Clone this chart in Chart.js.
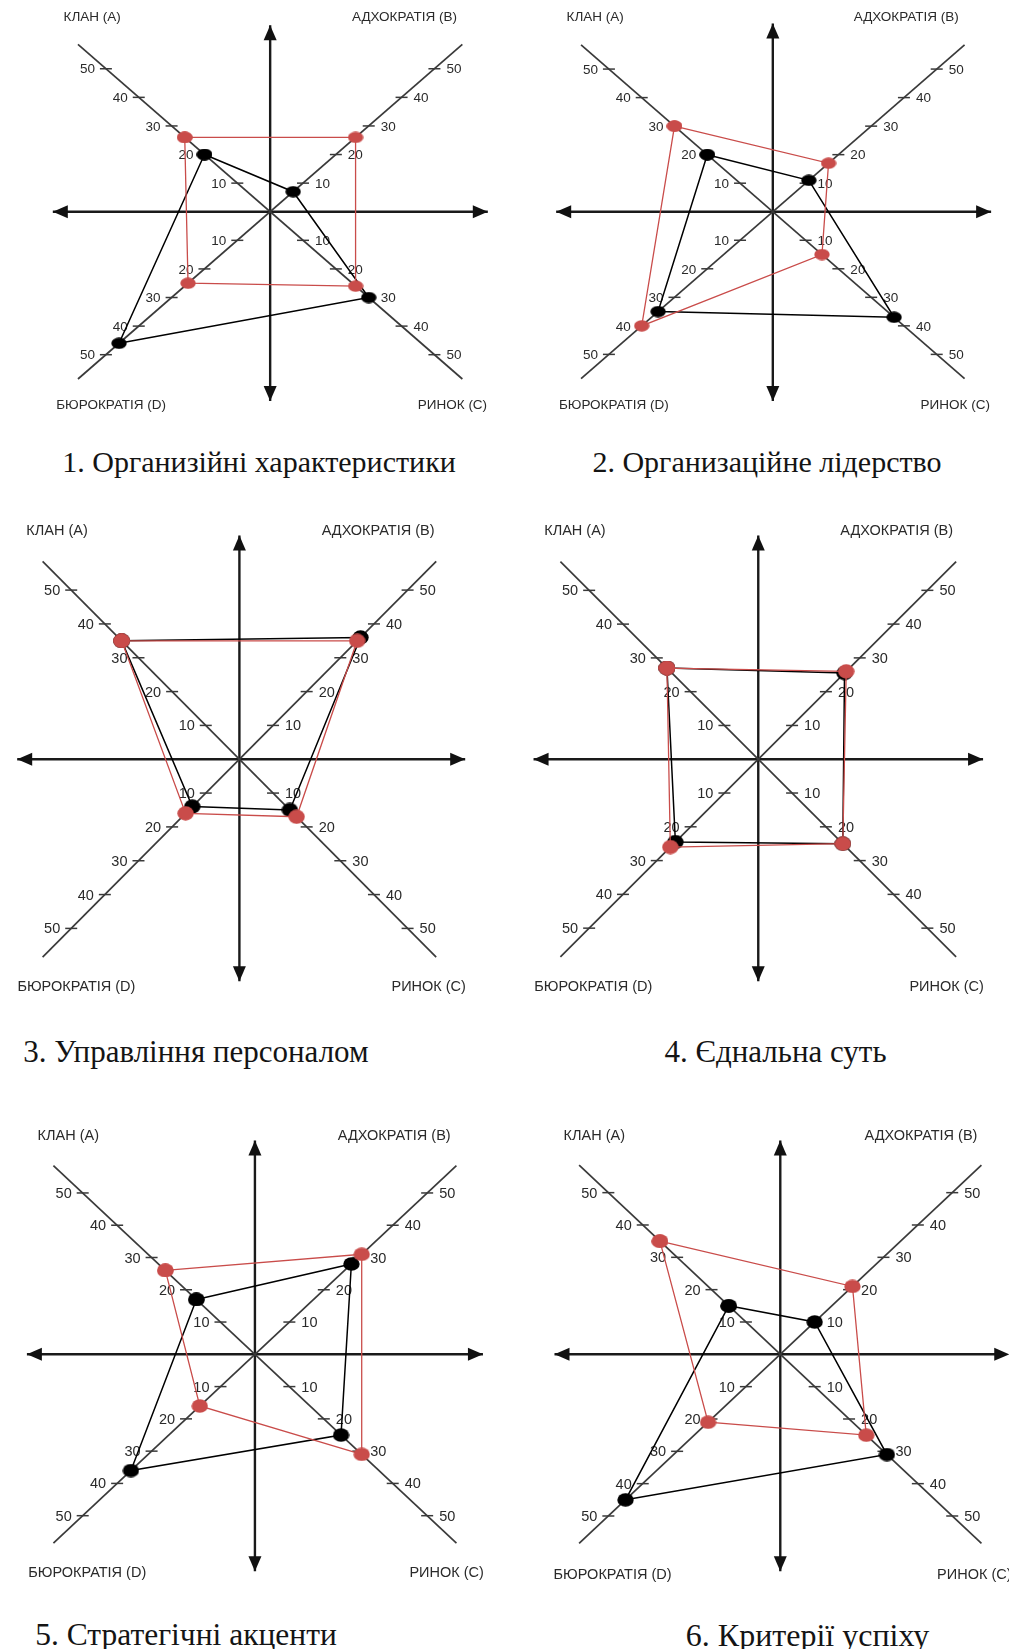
<!DOCTYPE html>
<html lang="uk">
<head>
<meta charset="utf-8">
<script src="https://cdn.jsdelivr.net/npm/chart.js@4.4.1/dist/chart.umd.min.js"></script>
<style>
  html, body { margin: 0; padding: 0; background: #fff; }
  body { position: relative; width: 1009px; height: 1649px; overflow: hidden; }
  .panel { position: absolute; }
  .caption {
    position: absolute;
    font-family: 'Liberation Serif', 'Times New Roman', serif;
    color: #141414;
    white-space: nowrap;
    transform: translate(-50%, -50%);
  }
</style>
</head>
<body>
<script>
// four culture types, order A, B, C, D (A up-left, B up-right, C down-right, D down-left)
const axisNames = ['КЛАН (А)', 'АДХОКРАТІЯ (В)', 'РИНОК (С)', 'БЮРОКРАТІЯ (D)'];
const tickValues = [10, 20, 30, 40, 50];
const chartTitles = [
  '1. Организійні характеристики',
  '2. Организаційне лідерство',
  '3. Управління персоналом',
  '4. Єднальна суть',
  '5. Стратегічні акценти',
  '6. Критерії успіху',
];

// black profile, values on A, B, C, D
const blackSeries = [
  [20, 7, 30, 46],
  [20, 11, 37, 35],
  [35, 36, 15, 14],
  [27, 25.5, 25, 24.5],
  [17, 28, 25, 36],
  [15, 10, 31, 45],
];
// red profile, values on A, B, C, D
const redSeries = [
  [26, 26, 26, 25],
  [30, 17, 15, 40],
  [35, 35, 17, 16],
  [27, 26, 25, 26],
  [26, 31, 31, 16],
  [35, 21, 25, 21],
];

const AXIS_LEN = 58.5; // diagonal axis length, in value units

// page layout of each panel (pixels), not data
const panels = [
  { left: 0, top: 0, w: 505, h: 425, cx: 270.7, cy: 211.7, k: 4.5, ang: 41.2,
    hx: [-224, 224.3], vy: [-193.4, 196.3], font: 13.5, dot: [16, 12],
    names: [[-178, -194.4], [134.3, -194.4], [182.3, 193.3], [-159, 193.3]], title: [259, 462, 30] },
  { left: 505, top: 0, w: 504, h: 425, cx: 773.3, cy: 211.7, k: 4.49, ang: 41.2,
    hx: [-223.3, 225], vy: [-195, 196.3], font: 13.5, dot: [16, 12],
    names: [[-177.6, -194.4], [133.4, -194.4], [182.4, 193.3], [-159, 193.3]], title: [767, 462, 30] },
  { left: 0, top: 515, w: 505, h: 485, cx: 239, cy: 759.3, k: 4.92, ang: 45.2,
    hx: [-229, 232.7], vy: [-231, 229], font: 14.5, dot: [17, 15],
    names: [[-182.3, -228.6], [138.7, -228.6], [189.3, 227.4], [-163, 227.4]], title: [196, 1052, 31] },
  { left: 505, top: 515, w: 504, h: 485, cx: 758.3, cy: 759.3, k: 4.93, ang: 45,
    hx: [-231.6, 231.7], vy: [-231, 229], font: 14.5, dot: [17, 15],
    names: [[-183.3, -228.6], [138.4, -228.6], [188.4, 227.4], [-165, 227.4]], title: [775.5, 1052, 31] },
  { left: 0, top: 1120, w: 505, h: 470, cx: 255, cy: 1354.3, k: 4.87, ang: 43.2,
    hx: [-235, 235], vy: [-221, 224], font: 14.5, dot: [17, 14],
    names: [[-186.7, -218.6], [139.3, -218.6], [191.7, 219], [-167.7, 219]], title: [186, 1635, 31.5] },
  { left: 505, top: 1120, w: 504, h: 470, cx: 781, cy: 1354.3, k: 4.87, ang: 43.3,
    hx: [-232.7, 236], vy: [-221, 224], font: 14.5, dot: [17, 14],
    names: [[-186, -218.6], [140.7, -218.6], [194, 220.7], [-167.7, 220.7]], title: [807.5, 1635, 32] },
];

const RED = '#c94c4a';
const AXIS_GREY = '#3a3a3a';

function direction(i, ang) {
  const r = ang * Math.PI / 180, c = Math.cos(r), s = Math.sin(r);
  return [[-c, s], [c, s], [c, -s], [-c, -s]][i];
}

function toPoint(v, i, ang) {
  const d = direction(i, ang);
  return { x: v * d[0], y: v * d[1] };
}

function polygon(values, ang) {
  const pts = values.map((v, i) => toPoint(v, i, ang));
  pts.push(pts[0]);
  return pts;
}

function ellipseDot(color, w, h) {
  const c = document.createElement('canvas');
  c.width = w;
  c.height = h;
  const g = c.getContext('2d');
  g.fillStyle = color;
  g.beginPath();
  g.ellipse(w / 2, h / 2, w / 2 - 0.3, h / 2 - 0.3, 0, 0, Math.PI * 2);
  g.fill();
  return c;
}

// ticks, tick labels, arrow heads and quadrant names
const framePlugin = {
  id: 'frame',
  beforeDatasetsDraw(chart, args, opts) {
    const p = opts.panel;
    const { ctx } = chart;
    const sx = chart.scales.x, sy = chart.scales.y;
    const ox = sx.getPixelForValue(0), oy = sy.getPixelForValue(0);
    ctx.save();
    ctx.strokeStyle = AXIS_GREY;
    ctx.lineWidth = 1.5;
    ctx.fillStyle = '#2a2a2a';
    ctx.font = p.font + 'px "Liberation Sans", Arial, sans-serif';
    ctx.textBaseline = 'middle';
    for (let i = 0; i < 4; i++) {
      tickValues.forEach((tv) => {
        const pt = toPoint(tv, i, p.ang);
        const X = sx.getPixelForValue(pt.x), Y = sy.getPixelForValue(pt.y);
        ctx.beginPath();
        ctx.moveTo(X - 6, Y);
        ctx.lineTo(X + 6, Y);
        ctx.stroke();
        const left = i === 0 || i === 3;
        ctx.textAlign = left ? 'right' : 'left';
        ctx.fillText(String(tv), left ? X - 11 : X + 12, Y + 1);
      });
    }
    ctx.textAlign = 'center';
    axisNames.forEach((name, i) => {
      ctx.fillText(name, ox + p.names[i][0], oy + p.names[i][1]);
    });
    ctx.restore();
  },
  afterDatasetsDraw(chart, args, opts) {
    const p = opts.panel;
    const { ctx } = chart;
    const sx = chart.scales.x, sy = chart.scales.y;
    const heads = [
      [sx.getPixelForValue(p.hx[0] / p.k), sy.getPixelForValue(0), -1, 0],
      [sx.getPixelForValue(p.hx[1] / p.k), sy.getPixelForValue(0), 1, 0],
      [sx.getPixelForValue(0), sy.getPixelForValue(-p.vy[0] / p.k), 0, -1],
      [sx.getPixelForValue(0), sy.getPixelForValue(-p.vy[1] / p.k), 0, 1],
    ];
    ctx.save();
    ctx.fillStyle = '#111';
    heads.forEach(([x, y, dx, dy]) => {
      const len = 15, half = 6.5;
      ctx.beginPath();
      ctx.moveTo(x, y);
      ctx.lineTo(x - dx * len - dy * half, y - dy * len + dx * half);
      ctx.lineTo(x - dx * len + dy * half, y - dy * len - dx * half);
      ctx.closePath();
      ctx.fill();
    });
    ctx.restore();
  },
};

panels.forEach((p, n) => {
  const holder = document.createElement('div');
  holder.className = 'panel';
  holder.style.left = p.left + 'px';
  holder.style.top = p.top + 'px';
  const canvas = document.createElement('canvas');
  canvas.width = p.w;
  canvas.height = p.h;
  canvas.style.width = p.w + 'px';
  canvas.style.height = p.h + 'px';
  holder.appendChild(canvas);
  document.body.appendChild(holder);

  const cap = document.createElement('div');
  cap.className = 'caption';
  cap.textContent = chartTitles[n];
  cap.style.left = p.title[0] + 'px';
  cap.style.top = p.title[1] + 'px';
  cap.style.fontSize = p.title[2] + 'px';
  document.body.appendChild(cap);

  const axisLine = (pts, width, color, order) => ({
    data: pts,
    showLine: true,
    borderColor: color,
    borderWidth: width,
    pointRadius: 0,
    borderCapStyle: 'butt',
    order: order,
  });
  const profile = (values, color, width, order) => ({
    data: polygon(values, p.ang),
    showLine: true,
    borderColor: color,
    borderWidth: width,
    pointStyle: ellipseDot(color, p.dot[0], p.dot[1]),
    pointRadius: 6,
    order: order,
  });

  new Chart(canvas, {
    type: 'scatter',
    data: {
      datasets: [
        profile(redSeries[n], RED, 1.3, 0),
        profile(blackSeries[n], '#000', 1.5, 1),
        axisLine([toPoint(AXIS_LEN, 0, p.ang), toPoint(AXIS_LEN, 2, p.ang)], 1.7, AXIS_GREY, 2),
        axisLine([toPoint(AXIS_LEN, 1, p.ang), toPoint(AXIS_LEN, 3, p.ang)], 1.7, AXIS_GREY, 2),
        axisLine([{ x: p.hx[0] / p.k, y: 0 }, { x: p.hx[1] / p.k, y: 0 }], 2.4, '#1a1a1a', 3),
        axisLine([{ x: 0, y: -p.vy[0] / p.k }, { x: 0, y: -p.vy[1] / p.k }], 2.4, '#1a1a1a', 3),
      ],
    },
    options: {
      responsive: false,
      animation: false,
      devicePixelRatio: 1,
      layout: { padding: 0 },
      events: [],
      elements: { line: { tension: 0 } },
      scales: {
        x: { type: 'linear', display: false,
             min: (p.left - p.cx) / p.k, max: (p.left + p.w - p.cx) / p.k },
        y: { type: 'linear', display: false,
             min: (p.cy - (p.top + p.h)) / p.k, max: (p.cy - p.top) / p.k },
      },
      plugins: {
        legend: { display: false },
        tooltip: { enabled: false },
        frame: { panel: p },
      },
    },
    plugins: [framePlugin],
  });
});
</script>
</body>
</html>
